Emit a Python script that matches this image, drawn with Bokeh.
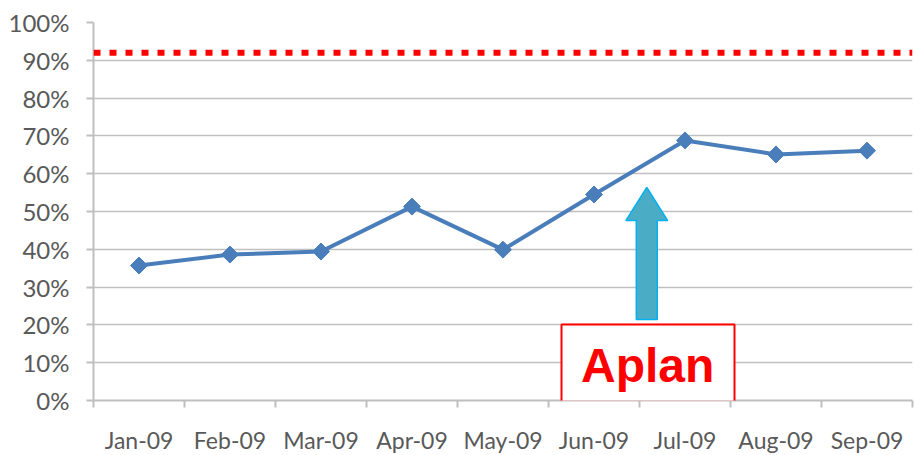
import numpy as np
from bokeh.plotting import figure
from bokeh.models import (Range1d, FixedTicker, NumeralTickFormatter, Span,
                          BoxAnnotation, Label, ColumnDataSource)
from bokeh.embed import file_html
from bokeh.resources import INLINE

# ---- data ----
months = ["Jan-09", "Feb-09", "Mar-09", "Apr-09", "May-09",
          "Jun-09", "Jul-09", "Aug-09", "Sep-09"]
values = [0.357, 0.386, 0.394, 0.513, 0.399, 0.545, 0.688, 0.651, 0.661]
target = 0.92
y_ticks = [0.0, 0.1, 0.2, 0.3, 0.4, 0.5, 0.6, 0.7, 0.8, 0.9, 1.0]
annotation_text = "Aplan"

# ---- layout / style ----
AXIS_COLOR = "#bfbfbf"
GRID_COLOR = "#c0c0c0"
LABEL_COLOR = "#595959"
LINE_COLOR = "#4a7ebb"
FONT = "Lato"

n = len(months)
centers = [i + 0.5 for i in range(n)]
bounds = [i for i in range(n + 1)]

p = figure(frame_width=819, frame_height=378,
           x_range=Range1d(0, n), y_range=Range1d(0, 1),
           output_backend="svg", toolbar_location=None,
           min_border_left=93, min_border_top=22, min_border_right=2,
           min_border_bottom=54)
p.outline_line_color = None
p.background_fill_color = "white"

# axes
p.xaxis.ticker = FixedTicker(ticks=centers, minor_ticks=bounds)
p.xaxis.major_label_overrides = {c: m for c, m in zip(centers, months)}
p.xaxis.major_tick_line_color = None
p.xaxis.major_tick_out = 0
p.xaxis.major_tick_in = 0
p.xaxis.minor_tick_in = 0
p.xaxis.minor_tick_out = 7
p.xaxis.minor_tick_line_color = AXIS_COLOR
p.xaxis.minor_tick_line_width = 2
p.xaxis.major_label_standoff = 18
p.xaxis.major_label_text_font_size = "23px"

p.yaxis.ticker = FixedTicker(ticks=y_ticks)
p.yaxis.formatter = NumeralTickFormatter(format="0%")
p.yaxis.major_tick_in = 0
p.yaxis.major_tick_out = 7
p.yaxis.major_tick_line_color = AXIS_COLOR
p.yaxis.major_tick_line_width = 2
p.yaxis.minor_tick_line_color = None
p.yaxis.major_label_standoff = 17
p.yaxis.major_label_text_font_size = "24px"

for ax in (p.xaxis, p.yaxis):
    ax.axis_line_color = AXIS_COLOR
    ax.axis_line_width = 2
    ax.major_label_text_color = LABEL_COLOR
    ax.major_label_text_font = FONT

p.xgrid.visible = False
p.ygrid.ticker = FixedTicker(ticks=y_ticks)
p.ygrid.grid_line_color = GRID_COLOR
p.ygrid.grid_line_width = 1.5

# target line
p.add_layout(Span(location=target, dimension="width", line_color="#ff0000",
                  line_width=6, line_dash="7 9"))

# series
src = ColumnDataSource(dict(x=centers, y=values))
p.line("x", "y", source=src, line_color=LINE_COLOR, line_width=4)
p.scatter("x", "y", source=src, marker="square", angle=np.pi / 4, size=12,
          fill_color=LINE_COLOR, line_color=LINE_COLOR)

# arrow annotation (data units)
ax_c, shaft_hw, head_hw = 6.08, 0.115, 0.23
shaft_bot, head_base, tip = 0.214, 0.476, 0.5635
arrow_x = [ax_c - shaft_hw, ax_c + shaft_hw, ax_c + shaft_hw, ax_c + head_hw,
           ax_c, ax_c - head_hw, ax_c - shaft_hw]
arrow_y = [shaft_bot, shaft_bot, head_base, head_base, tip, head_base, head_base]
p.patch(arrow_x, arrow_y, fill_color="#4bacc6", line_color="#00b0f0",
        line_width=1.5)

# Aplan box
p.add_layout(BoxAnnotation(left=5.143, right=7.044, bottom=-0.003, top=0.201,
                           fill_color="white", fill_alpha=1.0,
                           line_color="#ff0000", line_alpha=1.0, line_width=2))
p.add_layout(Label(x=6.09, y=0.0926, text=annotation_text, text_align="center",
                   text_baseline="middle", text_color="#ff0000",
                   text_font="Liberation Sans", text_font_style="bold",
                   text_font_size="48px"))

open("out.html", "w").write(file_html(p, INLINE))
